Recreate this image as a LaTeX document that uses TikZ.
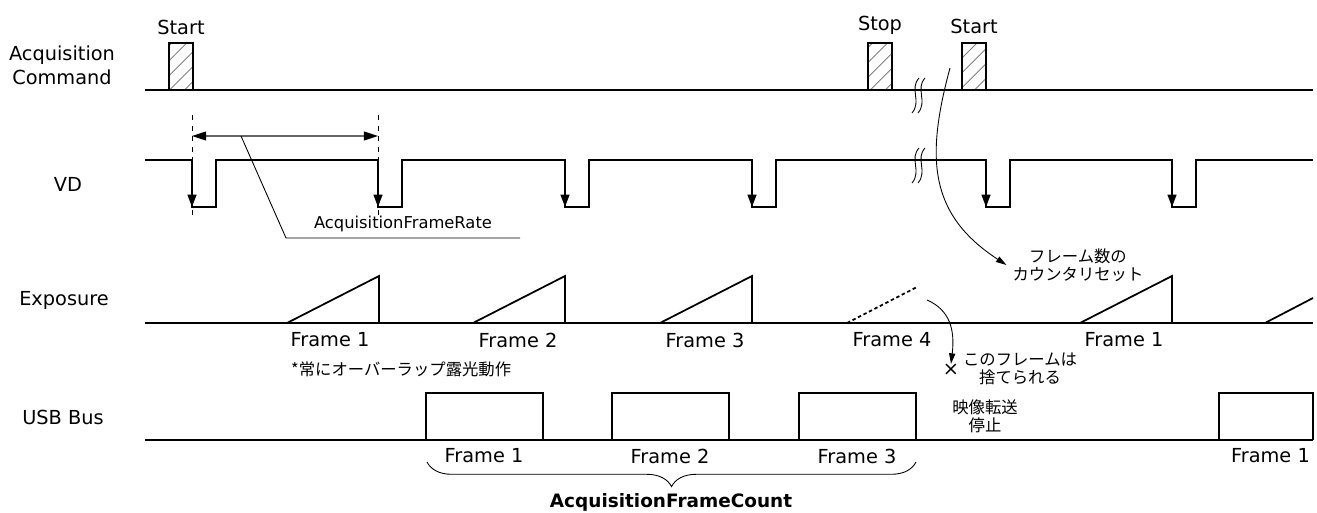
\documentclass[tikz,border=0pt]{standalone}
\usepackage{fontspec}
\setmainfont{DejaVu Sans}
\newfontfamily\jpfont{Noto Sans CJK JP}
\usetikzlibrary{arrows.meta,positioning,patterns.meta,decorations.pathreplacing}
\tikzset{sig/.style={line width=1pt},thinline/.style={line width=0.5pt},lbl/.style={font=\fontsize{11}{13.6}\selectfont,align=center},smalltxt/.style={font=\fontsize{9.3}{11}\selectfont},jp/.style={font=\jpfont\fontsize{9.3}{10.2}\selectfont,align=center},cmdbox/.style={draw,line width=0.9pt,minimum width=0.48cm,minimum height=0.94cm,inner sep=0pt,pattern={Lines[angle=45,distance=6pt,line width=0.5pt]},pattern color=gray},falledge/.style={sig,-{Triangle[length=7pt,width=5pt]}},pointer/.style={thinline,-{Triangle[length=6pt,width=3.5pt]}}}

\begin{document}
\begin{tikzpicture}[x=0.02cm,y=-0.02cm]
\useasboundingbox (0,0) rectangle (1317,513);
% signal names
\node[lbl] (cmd) at (62,65) {Acquisition\\Command};
\node[lbl] (vd) at (68,184) {VD};
\node[lbl] (exp) at (64,300) {Exposure};
\node[lbl] (usb) at (63,417) {USB Bus};

% acquisition command
\draw[sig] (145,90) -- (1313,90);
\node[cmdbox] (start1) at (181,66.5) {};
\node[cmdbox] (stop) at (880,66.5) {};
\node[cmdbox] (start2) at (974,66.5) {};
\node[lbl,above=1pt of start1] (startlbl1) {Start};
\node[lbl,above=1pt of stop] (stoplbl) {Stop};
\node[lbl,above=1pt of start2] (startlbl2) {Start};
\foreach \y in {78,148} \foreach \dx in {0,6} \draw[thinline] (919+\dx,\y) .. controls (909+\dx,\y+11) and (922+\dx,\y+23) .. (912+\dx,\y+35);

% VD
\draw[sig] (145,160) foreach \x in {192,378,565,752,986,1172} {-- (\x,160) -- (\x,207) -- (\x+24,207) -- (\x+24,160)} -- (1313,160);
\foreach \x in {192,378,565,752,986,1172} \draw[falledge] (\x,160) -- (\x,207);
\foreach \x in {192,378} \draw[thinline,dashed] (\x,115) -- (\x,220);
\coordinate (r1) at (192,136); \coordinate (r2) at (378,136);
\draw[line width=0.8pt,black!60,{Triangle[length=8pt,width=5pt,color=black]}-{Triangle[length=8pt,width=5pt,color=black]}] (r1) -- (r2);
\node[smalltxt,anchor=south] (rate) at (403,238) {AcquisitionFrameRate};
\coordinate (ratetap) at (241,136); \coordinate (ratekink) at (286,238); \coordinate (rateend) at (520,238);
\draw[thinline] (ratetap) -- (ratekink) -- (rateend);

% exposure
\draw[sig] (145,323) -- (1313,323);
\foreach \x in {287,473,660,1080} \draw[sig] (\x,323) -- (\x+92,276) -- (\x+92,323);
\draw[sig,dash pattern=on 2pt off 1.5pt] (847,323) -- (917,287);
\draw[sig] (1265,323) -- (1313,298);
\foreach \x/\n in {330/1,518/2,705/3,892/4,1124/1} \node[lbl] (ef\x) at (\x,340) {Frame \n};

% usb bus
\draw[sig] (145,440) -- (1313,440);
\foreach \x in {426,612,799} \draw[sig] (\x,440) -- (\x,393) -- (\x+117,393) -- (\x+117,440);
\draw[sig] (1219,440) -- (1219,393) -- (1313,393) -- (1313,440);
\foreach \x/\n in {484/1,670/2,857/3} \node[lbl] (uf\n) at (\x,456) {Frame \n};
\node[lbl,anchor=east] (uf4) at (1316,456) {Frame 1};
\coordinate (bl) at (427,462); \coordinate (br) at (916,462);
\draw[thinline,decorate,decoration={brace,mirror,amplitude=14pt}] (bl) -- (br);
\node[font=\bfseries\fontsize{10.5}{12}\selectfont] (count) at (671,502) {AcquisitionFrameCount};

% notes
\node[jp,anchor=west] (overlap) at (285,369) {*常にオーバーラップ露光動作};
\node[jp] (reset) at (1078,265) {フレーム数の\\カウンタリセット};
\coordinate (resetfrom) at (950,68);
\draw[pointer] (resetfrom) .. controls (925,160) and (930,215) .. (reset.west);
\node[jp] (discard) at (1020,369) {このフレームは\\捨てられる};
\node[font=\fontsize{11}{12}\selectfont,inner sep=0pt] (cross) at (951,370) {×};
\coordinate (dropfrom) at (927,300);
\draw[pointer] (dropfrom) .. controls (950,310) and (955,330) .. (cross.north);
\node[jp] (stopxfer) at (985,416) {映像転送\\停止};
\end{tikzpicture}
\end{document}
